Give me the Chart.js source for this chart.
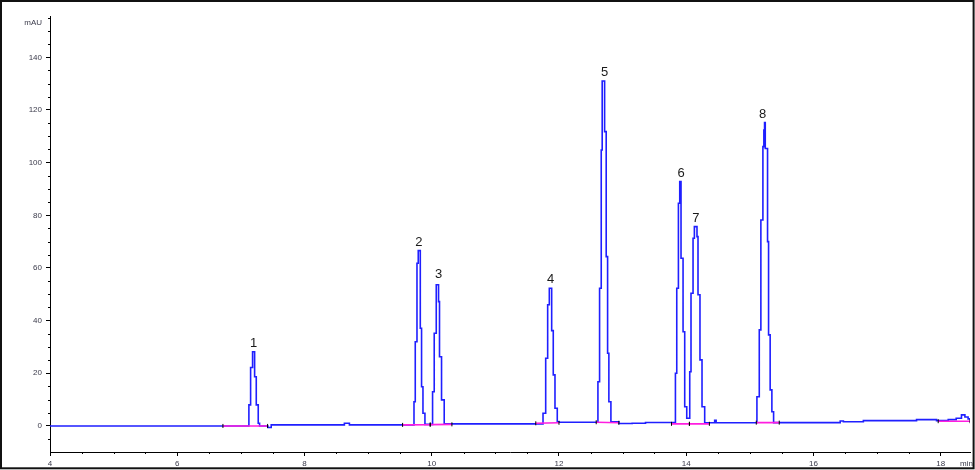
<!DOCTYPE html>
<html>
<head>
<meta charset="utf-8">
<script src="https://cdn.jsdelivr.net/npm/chart.js@4.4.1/dist/chart.umd.min.js"></script>
<style>
    html, body { margin: 0; padding: 0; background: #fff; }
    #wrap { width: 975px; height: 470px; }
</style>
</head>
<body>
<div id="wrap"><canvas id="chroma" width="975" height="470"></canvas></div>
<script>
// detector trace (min, mAU), each point = value after the step
const traceTime = [
    4.000, 7.126, 7.153, 7.184, 7.216, 7.242, 7.273, 7.294, 7.424, 7.477,
    8.627, 8.706,
    9.721, 9.741, 9.768, 9.788, 9.820, 9.840, 9.862, 9.893,
    10.013, 10.039, 10.071, 10.107, 10.122, 10.154, 10.196,
    11.749, 11.791, 11.822, 11.848, 11.885, 11.910, 11.937, 11.973, 12.000,
    12.612, 12.638, 12.664, 12.679, 12.717, 12.742, 12.764, 12.784, 12.816,
    12.941, 13.150, 13.360,
    13.830, 13.851, 13.877, 13.898, 13.918, 13.950, 13.976, 14.008,
    14.055, 14.075, 14.107, 14.128, 14.169, 14.185, 14.216, 14.248, 14.290,
    14.447, 14.470,
    15.111, 15.148, 15.173, 15.205, 15.220, 15.231, 15.242, 15.278, 15.294, 15.319, 15.346, 15.373,
    16.420, 16.470, 16.784, 17.620, 17.934, 18.118, 18.243, 18.326, 18.380, 18.430, 18.460
];
const traceMau = [
    0.0, 8.0, 22.2, 28.2, 18.7, 8.0, 1.0, 0.0, -0.6, 0.4,
    1.0, 0.4,
    9.2, 32.0, 61.8, 66.6, 37.1, 14.9, 4.8, 0.6,
    13.0, 35.2, 53.6, 47.2, 26.3, 9.9, 0.8,
    4.8, 25.7, 46.0, 52.3, 36.2, 19.4, 6.7, 1.6, 1.4,
    16.8, 52.3, 104.8, 131.0, 111.8, 64.3, 27.6, 9.2, 1.6,
    0.9, 1.0, 1.3,
    20.0, 52.3, 84.6, 92.8, 63.7, 35.8, 7.3, 2.9,
    20.6, 50.4, 71.3, 75.7, 71.9, 49.8, 25.1, 7.3, 1.2,
    2.1, 1.2,
    11.1, 36.5, 78.2, 106.1, 112.4, 115.2, 105.4, 70.0, 34.6, 13.7, 5.4, 1.25,
    1.9, 1.6, 2.0, 2.4, 2.0, 2.4, 2.9, 4.2, 3.4, 2.7, 2.7
];

// integration baselines
const integStartTime = [6.718, 9.542, 9.976, 11.635, 12.585, 13.768, 14.050, 15.101, 17.960];
const integStartMau  = [0.0, 0.4, 0.5, 1.0, 1.4, 0.8, 0.8, 1.25, 1.8];
const integEndTime   = [7.420, 9.976, 10.317, 12.000, 12.941, 14.050, 14.364, 15.462, 18.460];
const integEndMau    = [0.0, 0.5, 0.6, 1.2, 1.2, 0.8, 0.8, 1.25, 1.8];

// peak numbers
const peakLabels = ["1", "2", "3", "4", "5", "6", "7", "8"];
const peakTimes = [7.200, 9.799, 10.107, 11.870, 12.717, 13.918, 14.153, 15.200];
const peakTops = [28.2, 66.6, 54.2, 52.3, 131.0, 92.8, 75.7, 115.2];

const xTicks = [4, 6, 8, 10, 12, 14, 16, 18];
const yTicks = [0, 20, 40, 60, 80, 100, 120, 140];

const FONT = "'Liberation Sans', Arial, sans-serif";

const tracePoints = traceTime.map((t, i) => ({ x: t, y: traceMau[i] }));
const integPoints = [];
integStartTime.forEach((t, i) => {
    integPoints.push({ x: t, y: integStartMau[i] });
    integPoints.push({ x: integEndTime[i], y: integEndMau[i] });
    integPoints.push({ x: integEndTime[i] + 0.001, y: null });
});

const extras = {
    id: "extras",
    beforeDraw(chart) {
        const ctx = chart.ctx;
        ctx.save();
        ctx.fillStyle = "#fff";
        ctx.fillRect(0, 0, chart.width, chart.height);
        ctx.restore();
    },
    afterDraw(chart) {
        const ctx = chart.ctx;
        const xs = chart.scales.x, ys = chart.scales.y;
        const a = chart.chartArea;
        ctx.save();

        // minor ticks
        ctx.strokeStyle = "#000";
        ctx.lineWidth = 1;
        ctx.beginPath();
        for (let v = 4.5; v < xs.max; v += 0.5) {
            if (xTicks.includes(v)) continue;
            const px = Math.round(xs.getPixelForValue(v)) + 0.5;
            ctx.moveTo(px, a.bottom);
            ctx.lineTo(px, a.bottom + 2);
        }
        for (let v = -5; v <= ys.max; v += 5) {
            if (yTicks.includes(v)) continue;
            const py = Math.round(ys.getPixelForValue(v)) + 0.5;
            ctx.moveTo(a.left, py);
            ctx.lineTo(a.left - 2, py);
        }
        ctx.stroke();

        // axis units
        ctx.fillStyle = "#3a3a4a";
        ctx.font = "8px " + FONT;
        ctx.textAlign = "right";
        ctx.fillText("mAU", 42, 25);
        ctx.textAlign = "left";
        ctx.fillText("min", 960, 466);

        // peak numbers
        ctx.fillStyle = "#1a1a1a";
        ctx.font = "13px " + FONT;
        ctx.textAlign = "center";
        peakLabels.forEach((lab, i) => {
            const px = xs.getPixelForValue(peakTimes[i]);
            const py = ys.getPixelForValue(peakTops[i]);
            ctx.fillText(lab, px, py - 5);
        });

        // frame
        ctx.strokeStyle = "#111";
        ctx.lineWidth = 2;
        ctx.strokeRect(1, 1, 972.6, 467.3);
        ctx.restore();
    }
};

const ctx = document.getElementById("chroma").getContext("2d");
new Chart(ctx, {
    type: "line",
    data: {
        datasets: [
            {
                label: "baseline",
                data: integPoints,
                borderColor: "#ff1ee0",
                borderWidth: 1.6,
                spanGaps: false,
                pointStyle: "line",
                rotation: 90,
                pointRadius: 2,
                pointBorderColor: "#000",
                pointBorderWidth: 1,
                order: 0
            },
            {
                label: "signal",
                data: tracePoints,
                borderColor: "#1f1fff",
                borderWidth: 1.6,
                stepped: true,
                pointRadius: 0,
                fill: false,
                order: 1
            }
        ]
    },
    options: {
        responsive: false,
        animation: false,
        layout: { padding: { top: 16, right: 3, bottom: 0, left: 0 } },
        plugins: {
            legend: { display: false },
            tooltip: { enabled: false }
        },
        scales: {
            x: {
                type: "linear",
                min: 4,
                max: 18.46,
                border: { display: true, color: "#000", width: 1 },
                grid: { drawOnChartArea: false, drawTicks: true, tickLength: 4, color: "#000" },
                ticks: { font: { size: 8, family: FONT }, color: "#3a3a4a", padding: 3, maxRotation: 0, autoSkip: false },
                afterBuildTicks: (s) => { s.ticks = xTicks.map(v => ({ value: v })); },
                afterFit: (s) => { s.height = 18; }
            },
            y: {
                type: "linear",
                min: -9.9,
                max: 155.7,
                border: { display: true, color: "#000", width: 1 },
                grid: { drawOnChartArea: false, drawTicks: true, tickLength: 4, color: "#000" },
                ticks: { font: { size: 8, family: FONT }, color: "#3a3a4a", padding: 4, autoSkip: false },
                afterBuildTicks: (s) => { s.ticks = yTicks.map(v => ({ value: v })); },
                afterFit: (s) => { s.width = 50; }
            }
        }
    },
    plugins: [extras]
});
</script>
</body>
</html>
